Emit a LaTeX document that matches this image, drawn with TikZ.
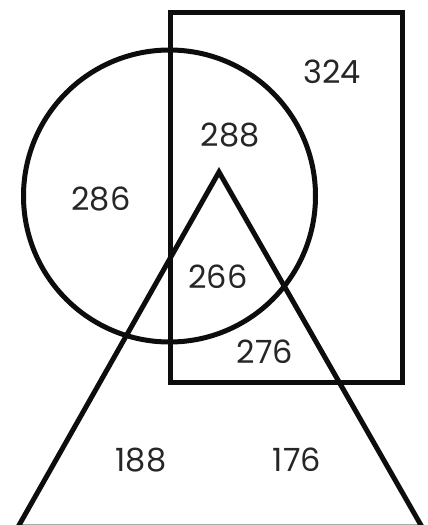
\documentclass[tikz,border=0pt]{standalone}
\usepackage{fontspec}
\setmainfont{Poppins}
\begin{document}
\begin{tikzpicture}[x=1pt,y=-1pt,
  shape line/.style={draw=black!95,line width=5pt},
  num/.style={font=\fontsize{32}{32}\selectfont,inner sep=0pt,text=black!85}]
\useasboundingbox (0,0) rectangle (428,525);
\begin{scope}
\clip (0,0) rectangle (428,525);
\draw[shape line] (170,12) rectangle (402,382);
\draw[shape line] (169.5,196) circle (146);
\draw[shape line,line join=miter] (219,172) -- (18,527) -- (422,527) -- cycle;
\end{scope}
\node[num] (a) at (332,72) {324};
\node[num] (b) at (230,135) {288};
\node[num] (c) at (101,199) {286};
\node[num] (d) at (218,277) {266};
\node[num] (e) at (265,352) {276};
\node[num] (f) at (141,460) {188};
\node[num] (g) at (297,460) {176};
\end{tikzpicture}
\end{document}
